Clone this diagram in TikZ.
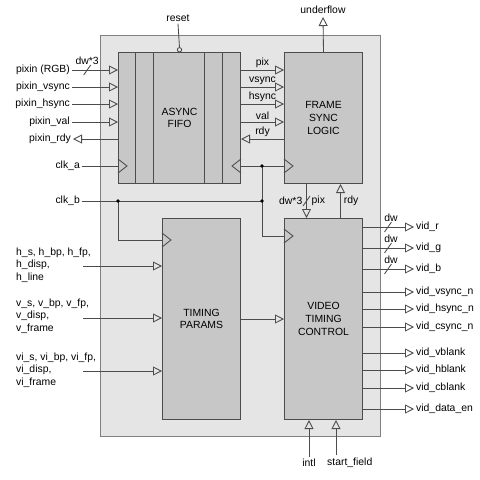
\documentclass[tikz,border=0pt]{standalone}
\usepackage{fontspec}
\setmainfont{Liberation Sans}
\usetikzlibrary{arrows.meta}
\definecolor{wirecol}{gray}{0.3}
\definecolor{framecol}{gray}{0.5}
\definecolor{outerfill}{gray}{0.9}
\definecolor{blockfill}{gray}{0.78}
\newcommand{\clkleft}[1]{\draw[wire] ([yshift=7pt]#1) -- ++(9,7) -- ++(-9,7);}
\newcommand{\clkright}[1]{\draw[wire] ([yshift=7pt]#1) -- ++(-9,7) -- ++(9,7);}
\newcommand{\busmark}[1]{\draw[wire] ([shift={(-3.5pt,-5pt)}]#1) -- ++(7,-10);}
\begin{document}
\begin{tikzpicture}[x=1pt,y=-1pt,font=\fontsize{10.4}{12.6}\selectfont,
  wire/.style={draw=wirecol,line width=0.85pt},
  sig/.style={wire,-{Triangle[open,length=9pt,width=9pt]}},
  block/.style={draw=wirecol,fill=blockfill,line width=1pt,anchor=north west,align=center,inner sep=0pt},
  lbl/.style={inner sep=2pt},
  jdot/.style={fill=black}]
\useasboundingbox (0,0) rectangle (480,480);
\fill[white] (0,0) rectangle (480,480);
\draw[draw=framecol,fill=outerfill,line width=1pt] (100,35) rectangle (380,436);

\node[block,minimum width=122,minimum height=131] (fifo) at (118,52) {ASYNC\\FIFO};
\node[block,minimum width=78,minimum height=131] (fsl) at (284,52) {FRAME\\SYNC\\LOGIC};
\node[block,minimum width=78,minimum height=201] (tp) at (162,218) {TIMING\\PARAMS};
\node[block,minimum width=78,minimum height=201] (vtc) at (284,218) {VIDEO\\TIMING\\CONTROL};
\foreach \xx in {135,153,204,222}
  \draw[wire] (\xx,52) -- (\xx,183);

\node[lbl] (reset) at (178,18) {reset};
\draw[wire] (reset.south) -- ([yshift=4.4pt]fifo.north);
\draw[wire,fill=outerfill] ([yshift=2.2pt]fifo.north) circle (2.2pt);
\node[lbl] (uflow) at (323,10) {underflow};
\draw[sig,shorten >=1pt] (fsl.north) -- (uflow.south);

\node[lbl,anchor=east] (prgb) at (72,70) {pixin (RGB)};
\node[lbl,anchor=east] (pvs) at (72,87) {pixin\_vsync};
\node[lbl,anchor=east] (phs) at (72,104) {pixin\_hsync};
\node[lbl,anchor=east] (pval) at (72,122) {pixin\_val};
\node[lbl,anchor=east] (prdy) at (73,139) {pixin\_rdy};
\node[lbl,anchor=east] (clka) at (82,166) {clk\_a};
\node[lbl,anchor=east] (clkb) at (82,201) {clk\_b};

\draw[sig] (prgb.east) -- coordinate[pos=0.33] (bw0) (prgb.east -| fifo.west);
\busmark{bw0}
\node[lbl,above=3pt] (bwl0) at (bw0) {dw*3};
\draw[sig] (pvs.east) -- (pvs.east -| fifo.west);
\draw[sig] (phs.east) -- (phs.east -| fifo.west);
\draw[sig] (pval.east) -- (pval.east -| fifo.west);
\draw[sig] (prdy.east -| fifo.west) -- (prdy.east);
\draw[wire] (clka.east) -- (clka.east -| fifo.west);
\clkleft{clka.east -| fifo.west}

\draw[sig] (fifo.east |- prgb) -- node[lbl,above=0pt] (lpix) {pix} (fsl.west |- prgb);
\draw[sig] (fifo.east |- pvs) -- node[lbl,above=0pt] (lvs) {vsync} (fsl.west |- pvs);
\draw[sig] (fifo.east |- phs) -- node[lbl,above=0pt] (lhs) {hsync} (fsl.west |- phs);
\draw[sig] (fifo.east |- pval) -- node[lbl,above=0pt] (lval) {val} (fsl.west |- pval);
\draw[sig] (fsl.west |- prdy) -- node[lbl,above=0pt] (lrdy) {rdy} (fifo.east |- prdy);

\coordinate (ja) at (262,166);
\coordinate (jb) at (118,201);
\coordinate (jr) at (262,201);
\coordinate (kt) at (118,240);
\coordinate (kv) at (262,236);
\draw[wire] (fifo.east |- ja) -- (fsl.west |- ja);
\clkright{fifo.east |- ja}
\clkleft{fsl.west |- ja}
\draw[wire] (clkb.east) -- (jr);
\draw[wire] (ja) -- (kv) -- (vtc.west |- kv);
\clkleft{vtc.west |- kv}
\draw[wire] (jb) -- (kt) -- (tp.west |- kt);
\clkleft{tp.west |- kt}
\foreach \jj in {ja,jb,jr}
  \fill[jdot] (\jj) circle (1.9pt);

\draw[sig] ([xshift=-17pt]fsl.south) -- coordinate[pos=0.5] (bwp) ([xshift=-17pt]vtc.north);
\busmark{bwp}
\node[lbl,anchor=east] (bwpl) at ([xshift=-2pt]bwp) {dw*3};
\node[lbl,anchor=west] (bwpix) at ([xshift=3pt]bwp) {pix};
\draw[sig] ([xshift=17pt]vtc.north) -- node[lbl,right=1pt] (lrdy2) {rdy} ([xshift=17pt]fsl.south);

\node[lbl,anchor=west,align=left] (hpar) at (14,265) {h\_s, h\_bp, h\_fp,\\h\_disp,\\h\_line};
\node[lbl,anchor=west,align=left] (vpar) at (14,316) {v\_s, v\_bp, v\_fp,\\v\_disp,\\v\_frame};
\node[lbl,anchor=west,align=left] (vipar) at (14,370) {vi\_s, vi\_bp, vi\_fp,\\vi\_disp,\\vi\_frame};
\coordinate (hin) at (83,266);
\coordinate (vin) at (83,318);
\coordinate (viin) at (83,371);
\draw[sig] (hin) -- (hin -| tp.west);
\draw[sig] (vin) -- (vin -| tp.west);
\draw[sig] (viin) -- (viin -| tp.west);
\draw[sig] (tp.east) -- (vtc.west |- tp.east);

\foreach \y/\txt [count=\i] in {227/vid\_r,248/vid\_g,269/vid\_b,292/vid\_vsync\_n,309/vid\_hsync\_n,327/vid\_csync\_n,353/vid\_vblank,370/vid\_hblank,388/vid\_cblank,409/vid\_data\_en}{
  \node[lbl,anchor=west] (out\i) at (414,\y) {\txt};
  \draw[sig] (vtc.east |- out\i.west) -- coordinate[pos=0.49] (bw\i) (out\i.west);
}
\foreach \i in {1,2,3}{
  \busmark{bw\i}
  \node[lbl,above=3pt] (bwl\i) at ([xshift=3pt]bw\i) {dw};
}

\node[lbl] (intl) at (309,463) {intl};
\node[lbl,anchor=west] (sfield) at (325,463) {start\_field};
\coordinate (sfin) at (336,455);
\draw[sig] (intl.north) -- (intl.north |- vtc.south);
\draw[sig] (sfin) -- (sfin |- vtc.south);
\end{tikzpicture}
\end{document}
